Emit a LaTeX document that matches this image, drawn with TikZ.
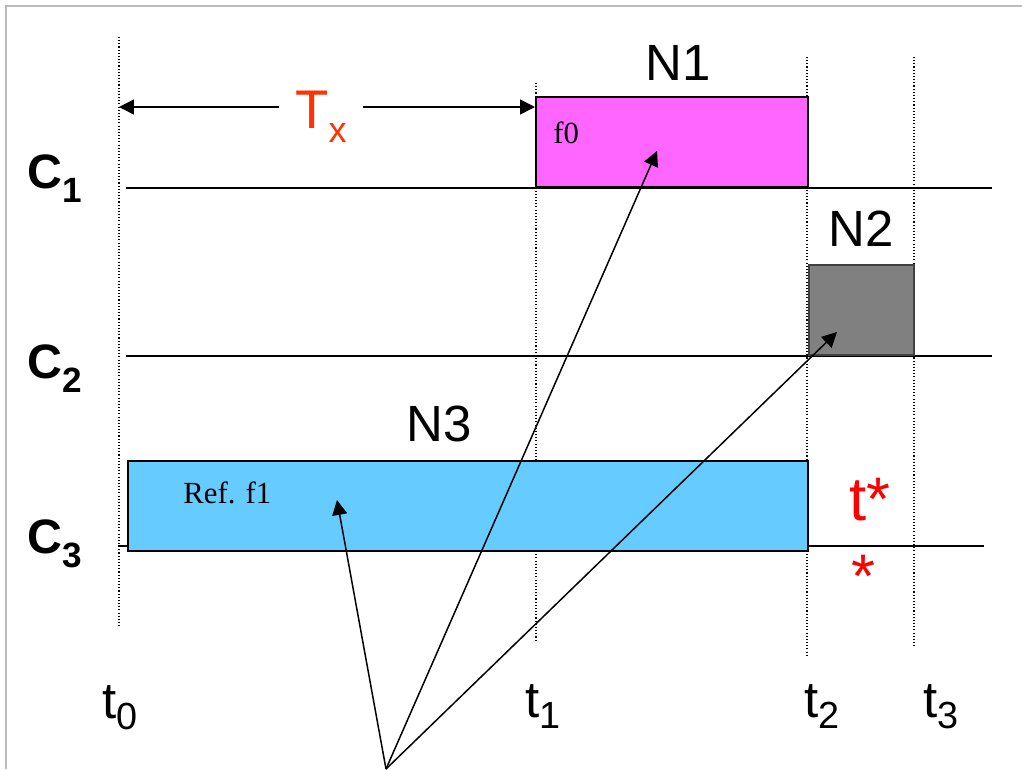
\documentclass[tikz,border=0pt]{standalone}
\usepackage{fontspec}
\setmainfont{Liberation Sans}
\newfontfamily\timesface{Liberation Serif}
\usepackage{xcolor}
\usetikzlibrary{arrows.meta,positioning}
\definecolor{slotpink}{HTML}{FF66FF}
\definecolor{slotgray}{HTML}{808080}
\definecolor{slotblue}{HTML}{66CCFF}
\definecolor{txorange}{HTML}{FF3300}
\definecolor{framegray}{HTML}{BBBBBB}
\newcommand{\bigfont}{\fontsize{29}{34}\selectfont}
\newcommand{\smallserif}{\timesface\fontsize{17.5}{20}\selectfont}
\newcommand{\tlabel}[1]{t\raisebox{-6.8pt}{\fontsize{21.5}{24}\selectfont #1}}
\newcommand{\clabel}[1]{C\raisebox{-8.5pt}{\fontsize{20}{24}\selectfont #1}}
\newcommand{\slotbox}[5]{
    \node[
        draw=#5,
        fill=#1,
        line width=1.1pt,
        minimum width=#4,
        minimum height=1.8cm,
        inner sep=0pt,
        anchor=south west
    ] (#2) at (#3) {};
}

\begin{document}
\begin{tikzpicture}[x=0.02cm,y=-0.02cm,>={Triangle[length=8.5pt,width=8.5pt]},
    tickline/.style={line width=0.6pt,dash pattern=on 0.6pt off 1.2pt},
    chanline/.style={line width=0.8pt},
    pointer/.style={->,line width=0.85pt}]
    \useasboundingbox (0,0) rectangle (1022,769);
    \draw[framegray,line width=1.2pt] (6,769) -- (6,6) -- (1022,6);

    % time marks and channels
    \draw[tickline] (119,37) -- (119,627);
    \draw[tickline] (536,83) -- (536,642);
    \draw[tickline] (807,57) -- (807,655);
    \draw[tickline] (914,57) -- (914,647);
    \draw[chanline] (126,188) -- (992,188);
    \draw[chanline] (126,356) -- (992,356);
    \draw[chanline] (118,546) -- (984,546);

    \slotbox{slotpink}{n1box}{535,188}{5.44cm}{black}
    \slotbox{slotgray}{n2box}{808,356}{2.1cm}{black!75}
    \slotbox{slotblue}{n3box}{127,552}{13.6cm}{black}
    \node[above=0.3cm of n1box, xshift=0.12cm, inner sep=0pt, font=\bigfont] (n1label) {N1};
    \node[above=0.34cm of n2box, inner sep=0pt, font=\bigfont] (n2label) {N2};
    \node[above=0.36cm of n3box, xshift=-0.57cm, inner sep=0pt, font=\bigfont] (n3label) {N3};
    \node[anchor=base west, inner sep=0pt, font=\smallserif] (f0label) at (553,143) {f0};
    \node[anchor=base west, inner sep=0pt, font=\smallserif] (f1label) at (183,503) {Ref. f1};

    % T_x span
    \coordinate (txstart) at (119,107);
    \coordinate (txend) at (535,107);
    \node[anchor=base west, inner ysep=0pt, inner xsep=0.32cm, text=txorange, font=\fontsize{31}{36}\selectfont] (txlabel) at (279,128) {T\raisebox{-8pt}{\fontsize{20.5}{24}\selectfont x}};
    \draw[pointer] (txlabel.west |- txstart) -- (txstart);
    \draw[pointer] (txlabel.east |- txend) -- (txend);

    % pointers
    \coordinate (origin) at (386,769);
    \coordinate (n1tip) at (657,151);
    \coordinate (n2tip) at (837,332);
    \coordinate (n3tip) at (337,500);
    \draw[pointer] (origin) -- (n3tip);
    \draw[pointer] (origin) -- (n1tip);
    \draw[pointer] (origin) -- (n2tip);

    \node[anchor=base west, inner sep=0pt, font=\fontsize{27.5}{32}\selectfont\bfseries] (c1label) at (27,188) {\clabel{1}};
    \node[anchor=base west, inner sep=0pt, font=\fontsize{27.5}{32}\selectfont\bfseries] (c2label) at (27,378) {\clabel{2}};
    \node[anchor=base west, inner sep=0pt, font=\fontsize{27.5}{32}\selectfont\bfseries] (c3label) at (27,553) {\clabel{3}};
    \node[anchor=base west, inner sep=0pt, font=\bigfont] (t0label) at (102,718) {\tlabel{0}};
    \node[anchor=base west, inner sep=0pt, font=\bigfont] (t1label) at (525,717) {\tlabel{1}};
    \node[anchor=base west, inner sep=0pt, font=\bigfont] (t2label) at (804,717) {\tlabel{2}};
    \node[anchor=base west, inner sep=0pt, font=\bigfont] (t3label) at (923,717) {\tlabel{3}};
    \node[anchor=base west, inner sep=0pt, text=red, font=\fontsize{35}{40}\selectfont] (tstar) at (849,520) {t*};
    \node[anchor=base west, inner sep=0pt, text=red, font=\fontsize{35}{40}\selectfont] (star) at (851,597) {*};
\end{tikzpicture}
\end{document}
